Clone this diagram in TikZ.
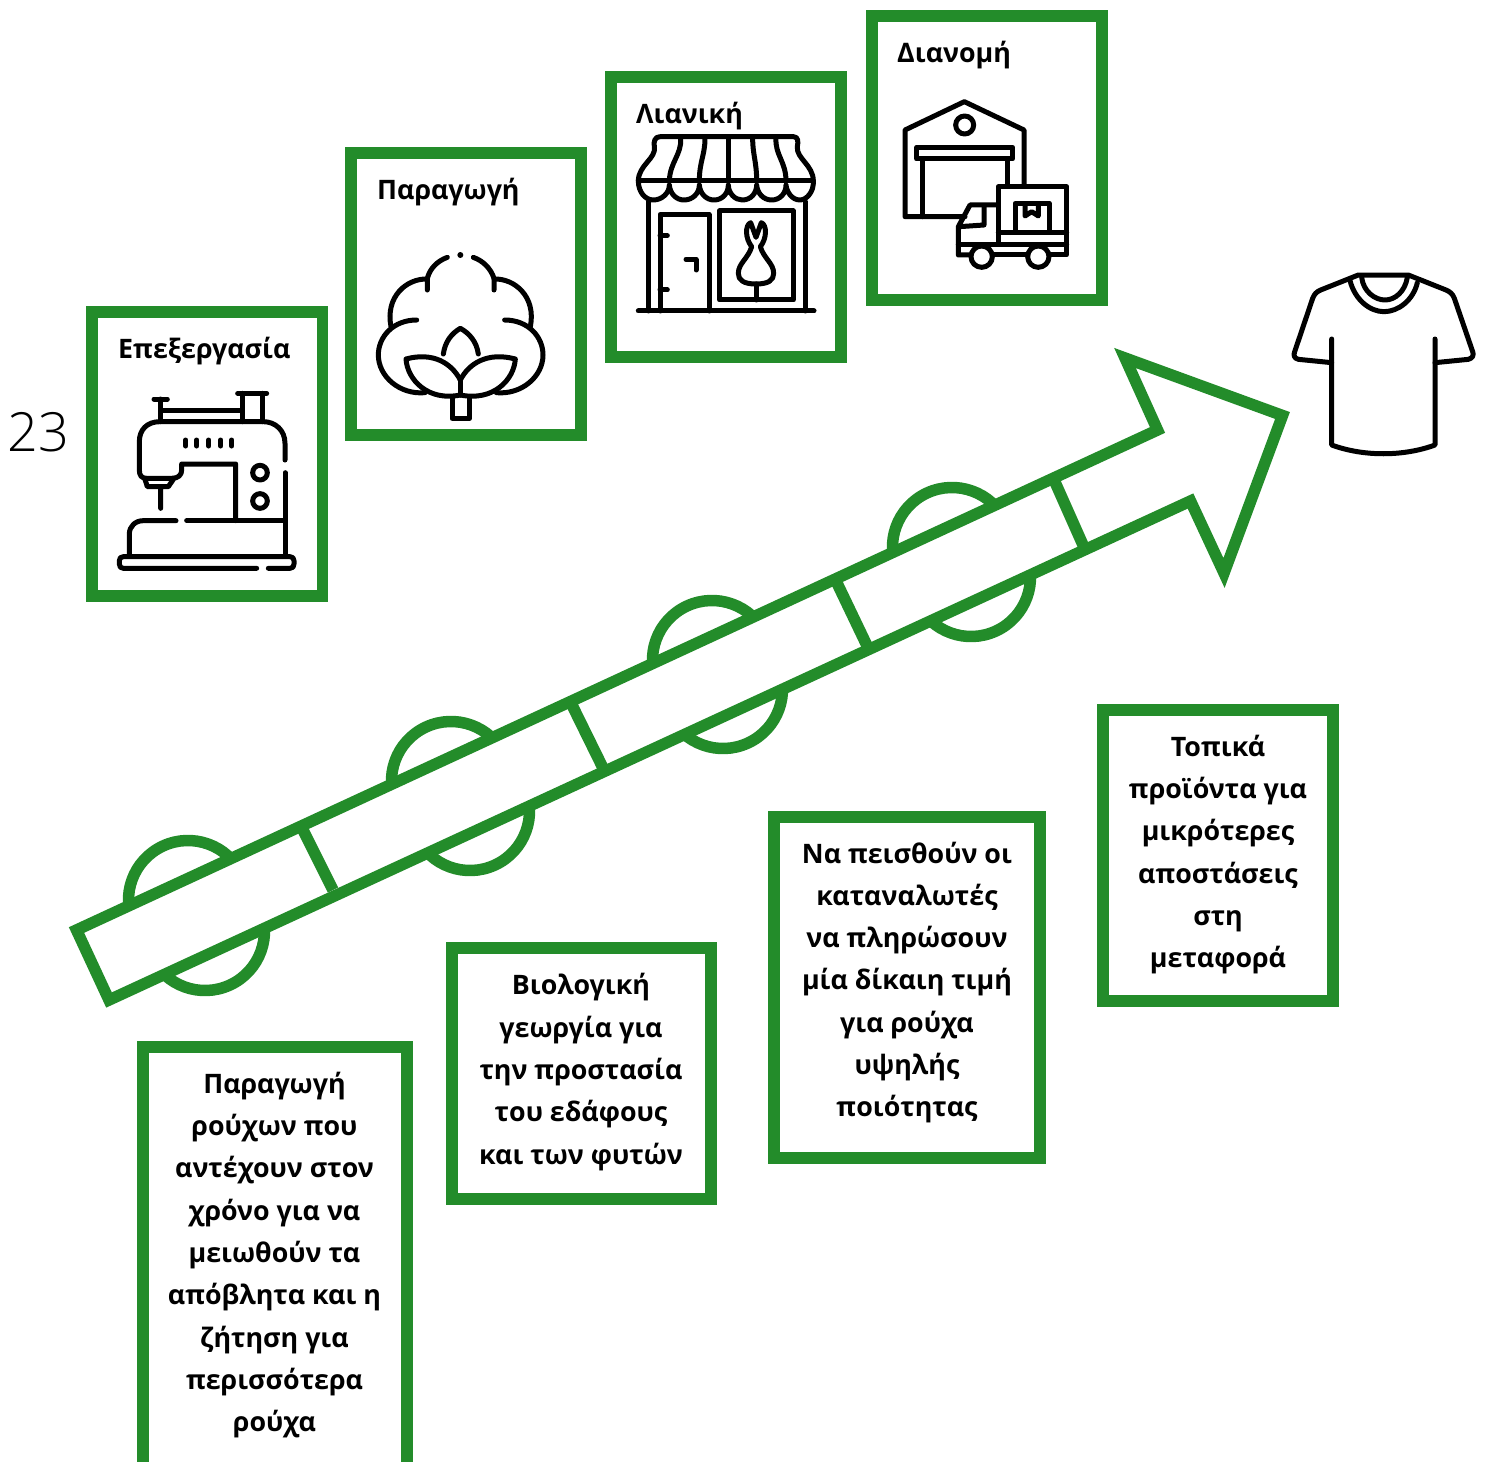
\documentclass[tikz,border=0pt]{standalone}
\usepackage{fontspec}
\setmainfont{Open Sans}
\newfontfamily\lightnum{Open Sans Light}
\definecolor{grn}{HTML}{238C2A}
\tikzset{
  frame/.style={draw=grn,line width=11.5pt,miter limit=10},
  hoop/.style={draw=grn,line width=11.5pt},
  icon/.style={draw=black,line width=5pt,line cap=round,line join=round},
  title/.style={font=\fontsize{26.8}{34}\selectfont\bfseries,anchor=base west,inner sep=0pt},
  body/.style={font=\fontsize{26.8}{42.3}\selectfont\bfseries,align=center,inner sep=0pt,anchor=center},
}
\begin{document}
\begin{tikzpicture}[x=1pt,y=-1pt]
\useasboundingbox (0,0) rectangle (1485,1461);
% upper boxes
\draw[frame] (92,312) rectangle (322.5,596);
\draw[frame] (351,153) rectangle (581,435);
\draw[frame] (611,77) rectangle (841,357);
\draw[frame] (872,16) rectangle (1102,300);
\node[title] (t1) at (118,358) {Επεξεργασία};
\node[title] (t2) at (377,199) {Παραγωγή};
\node[title] (t3) at (636,123.5) {Λιανική};
\node[title] (t4) at (897,63) {Διανομή};
\node[inner sep=0pt,font={\lightnum\fontsize{54}{60}\selectfont},text=black] (num) at (38,432) {23};
% lower boxes
\draw[frame] (143,1470) -- (143,1047) -- (407,1047) -- (407,1470);
\draw[frame] (452,948) rectangle (711,1199);
\draw[frame] (774,817) rectangle (1040,1158);
\draw[frame] (1103,710) rectangle (1333,1001);
\node[body] (b1) at (274.5,1255) {Παραγωγή\\ρούχων που\\αντέχουν στον\\χρόνο για να\\μειωθούν τα\\απόβλητα και η\\ζήτηση για\\περισσότερα\\ρούχα};
\node[body] (b2) at (581,1072) {Βιολογική\\γεωργία για\\την προστασία\\του εδάφους\\και των φυτών};
\node[body] (b3) at (907,982.5) {Να πεισθούν οι\\καταναλωτές\\να πληρώσουν\\μία δίκαιη τιμή\\για ρούχα\\υψηλής\\ποιότητας};
\node[body] (b4) at (1218,854.5) {Τοπικά\\προϊόντα για\\μικρότερες\\αποστάσεις\\στη\\μεταφορά};
% hoops behind the arrow: upper arcs and lower arcs
\foreach \cx/\cy in {188/900,451/781,712/660,952/547}
  \draw[hoop] (\cx,\cy) ++(155:59.5) arc[start angle=155,end angle=335,radius=59.5];
\foreach \cx/\cy in {205/931,470/811,723/689,971/577}
  \draw[hoop] (\cx,\cy) ++(-25:59.5) arc[start angle=-25,end angle=155,radius=59.5];
% arrow
\draw[frame,fill=white] (76.5,930) -- (1157.5,430) -- (1125,358) -- (1282.5,415.5) -- (1224,573) -- (1190.5,501) -- (109,1000) -- cycle;
\draw[hoop] (303,830) -- (333,890);
\draw[hoop] (572,705) -- (603,768);
\draw[hoop] (837,583) -- (871,654);
\draw[hoop] (1055,482) -- (1083,545);
% sewing machine
\begin{scope}[shift={(90,310)},scale=1/3]
\draw[icon] (192,267)--(232,267) (212,267)--(212,335) (212,300)--(450,300);
\draw[icon] (443,250)--(530,250) (458,250)--(458,335) (518,250)--(518,335);
\draw[icon] (585,450)--(585,400) .. controls (585,360) and (555,335) .. (520,335) -- (210,335) .. controls (170,335) and (148,360) .. (148,395) -- (148,480) .. controls (148,497) and (155,505) .. (170,505) -- (245,505) .. controls (265,505) and (275,495) .. (275,480) -- (275,462) -- (437,462) -- (437,632);
\draw[icon] (165,508) -- (172,530) -- (235,530) -- (250,508) (212,530) -- (212,595);
\foreach \x in {287,320,356,392,425} \draw[icon] (\x,390)--(\x,408);
\draw[icon] (510,488) circle (22) (510,573) circle (22);
\draw[icon] (585,488)--(585,738) (290,632)--(585,632);
\draw[icon] (258,632)--(160,632) .. controls (135,632) and (118,650) .. (118,672) -- (118,738);
\draw[icon] (535,775)--(600,775) .. controls (608,775) and (612,770) .. (612,762) -- (612,752) .. controls (612,745) and (608,740) .. (600,740) -- (100,740) .. controls (92,740) and (88,745) .. (88,752) -- (88,762) .. controls (88,770) and (92,775) .. (100,775) -- (500,775);
\end{scope}
% cotton
\begin{scope}[shift={(350,150)},scale=1/3]
\fill (331,315) circle (9);
\draw[icon] (292,322) .. controls (262,333) and (240,355) .. (232,385) -- (232,420);
\draw[icon] (370,322) .. controls (400,333) and (422,355) .. (432,385) -- (432,420);
\draw[icon] (232,387) .. controls (170,385) and (105,440) .. (123,530);
\draw[icon] (432,387) .. controls (494,385) and (559,440) .. (541,530);
\draw[icon] (200,510) .. controls (130,510) and (85,560) .. (85,615) .. controls (85,680) and (150,735) .. (225,728);
\draw[icon] (464,510) .. controls (534,510) and (579,560) .. (579,615) .. controls (579,680) and (514,735) .. (439,728);
\draw[icon] (280,612) .. controls (285,575) and (305,550) .. (331,535) .. controls (358,550) and (380,575) .. (385,612);
\draw[icon] (331,690) .. controls (305,640) and (250,605) .. (168,627) .. controls (172,690) and (235,755) .. (331,735);
\draw[icon] (331,690) .. controls (357,640) and (412,605) .. (496,627) .. controls (492,690) and (429,755) .. (331,735);
\draw[icon] (331,690)--(331,735);
\draw[icon] (306,742)--(306,805)--(358,805)--(358,742);
\end{scope}
% shop
\begin{scope}[shift={(610,75)},scale=1/3]
\draw[icon] (150,185)--(550,185) .. controls (565,185) and (565,200) .. (562,215) .. controls (558,250) and (610,270) .. (610,318) .. controls (612,350) and (590,375) .. (570,375) .. controls (545,375) and (530,350) .. (528,330) .. controls (528,355) and (510,375) .. (485,375) .. controls (460,375) and (442,355) .. (440,330) .. controls (440,355) and (422,375) .. (397,375) .. controls (375,375) and (355,355) .. (355,330) .. controls (355,355) and (337,375) .. (312,375) .. controls (288,375) and (270,355) .. (268,330) .. controls (268,355) and (248,375) .. (222,375) .. controls (198,375) and (180,355) .. (178,330) .. controls (178,355) and (155,375) .. (130,375) .. controls (105,375) and (85,350) .. (85,318) .. controls (85,270) and (140,250) .. (133,215) .. controls (130,200) and (135,185) .. (150,185);
\draw[icon] (85,318)--(610,318);
\draw[icon] (212,190) .. controls (215,240) and (180,260) .. (178,318);
\draw[icon] (285,190) .. controls (285,240) and (268,260) .. (268,318);
\draw[icon] (355,190)--(355,318);
\draw[icon] (428,190) .. controls (428,240) and (440,260) .. (440,318);
\draw[icon] (498,190) .. controls (495,240) and (528,260) .. (528,318);
\draw[icon] (115,380)--(115,708) (585,380)--(585,708) (85,708)--(612,708);
\draw[icon] (150,708)--(150,418)--(297,418)--(297,708);
\draw[icon] (150,482)--(172,482) (150,645)--(172,645);
\draw[icon] (228,553)--(258,553)--(258,585);
\draw[icon] (328,408) rectangle (550,675);
\draw[icon] (438,675)--(438,627);
\draw[icon] (438,487)--(422,443) .. controls (405,450) and (405,490) .. (425,515) .. controls (415,550) and (385,565) .. (385,595) .. controls (385,615) and (400,627) .. (438,627) .. controls (476,627) and (491,615) .. (491,595) .. controls (491,565) and (461,550) .. (451,515) .. controls (471,490) and (471,450) .. (454,443) -- cycle;
\end{scope}
% warehouse and truck
\begin{scope}[shift={(870,10)},scale=1/3]
\draw[icon] (285,620)--(105,620)--(105,360)--(283,275)--(462,360)--(462,525);
\draw[icon] (284,345) circle (27);
\draw[icon] (140,412) rectangle (428,447);
\draw[icon] (158,447)--(158,620) (412,447)--(412,525);
\draw[icon] (385,700)--(385,530)--(590,530)--(590,735)--(540,735);
\draw[icon] (435,662)--(435,580)--(538,580)--(538,662);
\draw[icon] (465,585)--(465,618)--(485,605)--(505,618)--(505,585);
\draw[icon] (385,668)--(590,668) (265,703)--(590,703);
\draw[icon] (385,585)--(300,585)--(265,650)--(265,735)--(300,735);
\draw[icon] (342,588)--(342,645)--(268,650);
\draw[icon] (335,740) circle (32) (505,740) circle (32);
\draw[icon] (368,735)--(472,735);
\end{scope}
% t-shirt
\begin{scope}[shift={(1280,260)},scale=1/3]
\draw[icon] (155,308)--(55,298) .. controls (42,295) and (40,285) .. (44,275) -- (98,115) .. controls (103,102) and (110,95) .. (122,90) -- (235,45) -- (385,45) -- (498,90) .. controls (510,95) and (518,102) .. (523,115) -- (578,275) .. controls (582,285) and (578,295) .. (565,298) -- (465,308);
\draw[icon] (155,237)--(155,555) .. controls (250,590) and (370,590) .. (465,555) -- (465,237);
\draw[icon] (210,62) .. controls (225,120) and (270,155) .. (312,155) .. controls (355,155) and (400,120) .. (412,68);
\draw[icon] (245,52) .. controls (250,95) and (285,120) .. (315,120) .. controls (345,120) and (375,95) .. (382,52);
\end{scope}
\end{tikzpicture}
\end{document}
